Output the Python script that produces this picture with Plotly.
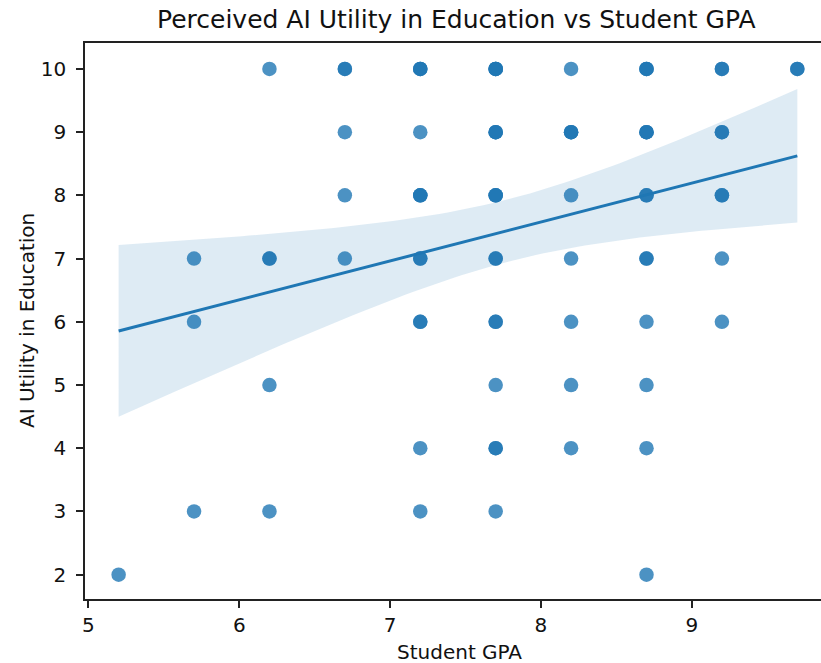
import numpy as np
import plotly.graph_objects as go

# Survey responses: student GPA, perceived AI utility score, and how many
# students gave each (GPA, score) pair.
gpa = [5.2,
       5.7, 5.7, 5.7,
       6.2, 6.2, 6.2, 6.2,
       6.7, 6.7, 6.7, 6.7,
       7.2, 7.2, 7.2, 7.2, 7.2, 7.2, 7.2,
       7.7, 7.7, 7.7, 7.7, 7.7, 7.7, 7.7, 7.7,
       8.2, 8.2, 8.2, 8.2, 8.2, 8.2, 8.2,
       8.7, 8.7, 8.7, 8.7, 8.7, 8.7, 8.7, 8.7,
       9.2, 9.2, 9.2, 9.2, 9.2,
       9.7]
utility = [2,
           7, 6, 3,
           10, 7, 5, 3,
           10, 9, 8, 7,
           10, 9, 8, 7, 6, 4, 3,
           10, 9, 8, 7, 6, 5, 4, 3,
           10, 9, 8, 7, 6, 5, 4,
           10, 9, 8, 7, 6, 5, 4, 2,
           10, 9, 8, 7, 6,
           10]
count = [1,
         1, 1, 1,
         1, 2, 1, 1,
         2, 1, 1, 1,
         3, 1, 3, 2, 2, 1, 1,
         4, 3, 3, 2, 2, 1, 2, 1,
         1, 3, 1, 1, 1, 1, 1,
         3, 3, 2, 2, 1, 1, 1, 1,
         2, 2, 2, 1, 1,
         2]

x = np.repeat(np.array(gpa, dtype=float), count)
y = np.repeat(np.array(utility, dtype=float), count)

# Ordinary least squares fit with a 95% confidence band
n = len(x)
slope, intercept = np.polyfit(x, y, 1)
resid = y - (intercept + slope * x)
s = np.sqrt(np.sum(resid ** 2) / (n - 2))
xbar = x.mean()
sxx = np.sum((x - xbar) ** 2)
t_crit = 1.992  # t(0.975, df = n - 2)

grid = np.linspace(x.min(), x.max(), 100)
fit = intercept + slope * grid
half = t_crit * s * np.sqrt(1.0 / n + (grid - xbar) ** 2 / sxx)
lower = fit - half
upper = fit + half

blue = "#1f77b4"
font = "DejaVu Sans"

fig = go.Figure()

fig.add_trace(go.Scatter(
    x=x, y=y, mode="markers",
    marker=dict(color=blue, size=14.5, opacity=0.8, line=dict(width=0)),
    hoverinfo="x+y", showlegend=False,
))

fig.add_trace(go.Scatter(
    x=np.concatenate([grid, grid[::-1]]),
    y=np.concatenate([upper, lower[::-1]]),
    fill="toself", fillcolor="rgba(31,119,180,0.15)",
    line=dict(width=0), mode="lines", hoverinfo="skip", showlegend=False,
))

fig.add_trace(go.Scatter(
    x=grid, y=fit, mode="lines",
    line=dict(color=blue, width=3), hoverinfo="skip", showlegend=False,
))

axis_common = dict(
    showgrid=False, zeroline=False, showline=True,
    linecolor="#222222", linewidth=1.6,
    ticks="outside", ticklen=7, tickwidth=1.5, tickcolor="#222222",
    tickfont=dict(family=font, size=20, color="#111111"),
)

fig.update_xaxes(range=[4.977, 9.857], tickvals=[5, 6, 7, 8, 9],
                 mirror=True, ticklabelstandoff=0, **axis_common)
fig.update_yaxes(range=[1.615, 10.41], tickvals=[2, 3, 4, 5, 6, 7, 8, 9, 10],
                 mirror=False, ticklabelstandoff=6, **axis_common)

fig.update_layout(
    width=821, height=663,
    margin=dict(l=85, r=0, t=43, b=64),
    plot_bgcolor="white", paper_bgcolor="white",
    font=dict(family=font, color="#111111"),
    annotations=[
        dict(text="Perceived AI Utility in Education vs Student GPA",
             xref="paper", yref="paper", x=0.5054, y=1.0414,
             xanchor="center", yanchor="middle", showarrow=False,
             font=dict(family=font, size=25, color="#111111")),
        dict(text="Student GPA",
             xref="paper", yref="paper", x=0.5095, y=-0.0953,
             xanchor="center", yanchor="middle", showarrow=False,
             font=dict(family=font, size=20, color="#111111")),
        dict(text="AI Utility in Education",
             xref="paper", yref="paper", x=-0.0788, y=0.5,
             xanchor="center", yanchor="middle", showarrow=False,
             textangle=-90,
             font=dict(family=font, size=20, color="#111111")),
    ],
)

fig.write_html("out.html")
